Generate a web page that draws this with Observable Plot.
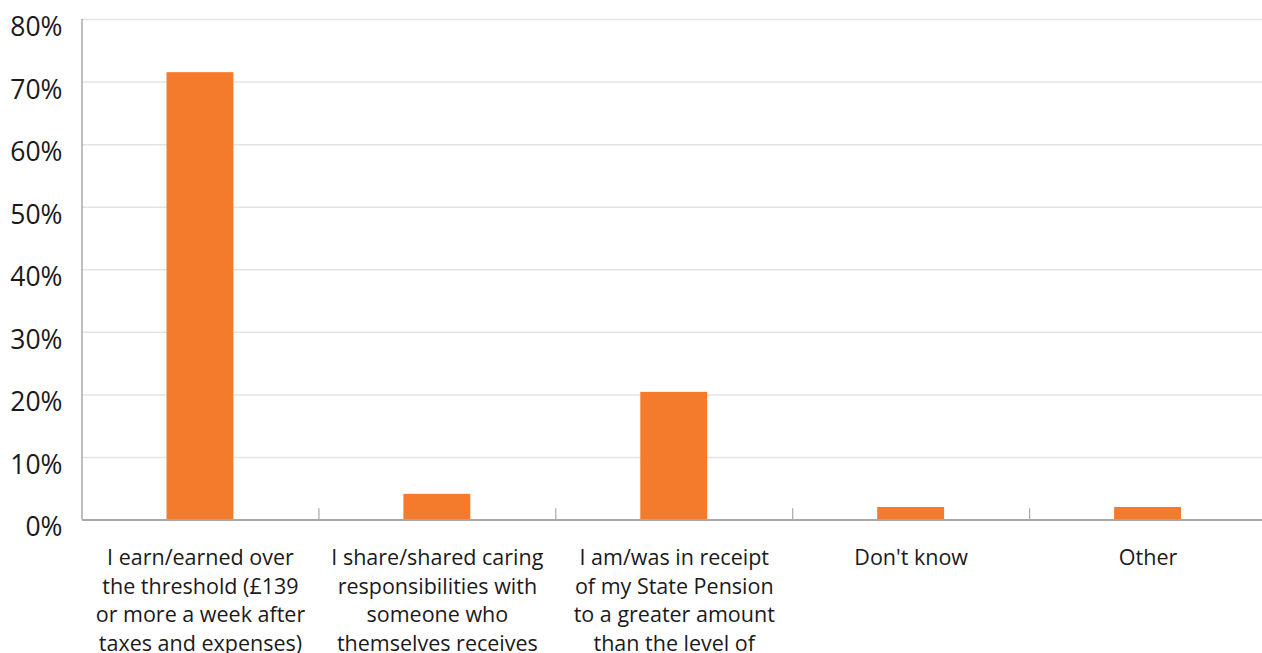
<!DOCTYPE html>
<html><head><meta charset="utf-8">
<script src="https://cdn.jsdelivr.net/npm/d3@7"></script>
<script src="https://cdn.jsdelivr.net/npm/@observablehq/plot@0.6"></script>
<style>
html,body{margin:0;padding:0;background:#fff;overflow:hidden;}
#chart svg{display:block;}
</style>
</head><body><div id="chart"></div>
<script>
const categories = [
  "I earn/earned over\nthe threshold (£139\nor more a week after\ntaxes and expenses)",
  "I share/shared caring\nresponsibilities with\nsomeone who\nthemselves receives\nCarer's Allowance",
  "I am/was in receipt\nof my State Pension\nto a greater amount\nthan the level of\nCarer's Allowance",
  "Don't know",
  "Other"
];
const values = [71.5, 4.1, 20.4, 2.0, 2.0];
const yTicks = [0, 10, 20, 30, 40, 50, 60, 70, 80];

const data = categories.map((c, i) => ({category: c, value: values[i]}));
const xRange = [81.5, 1266];
const step = (xRange[1] - xRange[0]) / categories.length;

const chart = Plot.plot({
  width: 1262,
  height: 653,
  marginLeft: 82,
  marginRight: 0,
  marginTop: 19,
  marginBottom: 133.5,
  style: {fontFamily: "'Open Sans', sans-serif", background: "#fff", overflow: "hidden", color: "#1a1a1a"},
  x: {domain: categories, range: xRange, padding: 0, round: false, label: null},
  y: {domain: [0, 80], label: null},
  marks: [
    Plot.gridY(yTicks, {stroke: "#e4e4e4", strokeOpacity: 1, strokeWidth: 1.5}),
    Plot.barY(data, {x: "category", y: "value", fill: "#F47B2C", insetLeft: 85, insetRight: 85}),
    Plot.ruleY([0], {stroke: "#a8a8a8", strokeWidth: 2}),
    Plot.ruleX([categories[0]], {x: d => d, dx: -step / 2, y1: 0, y2: 80, stroke: "#a8a8a8", strokeWidth: 1.5}),
    Plot.ruleX(categories.slice(1), {x: d => d, dx: -step / 2, y1: 0, y2: 1.8, stroke: "#a8a8a8", strokeWidth: 1.2}),
    Plot.axisY(yTicks, {tickSize: 0, tickPadding: 20, tickFormat: d => d + "%", fontSize: 26.5, dy: 8, fill: "#1a1a1a"}),
    Plot.axisX({tickSize: 0, tickPadding: 25, fontSize: 21.5, lineHeight: 1.33, fill: "#1a1a1a"})
  ]
});
document.getElementById("chart").append(chart);
</script>
</body></html>
